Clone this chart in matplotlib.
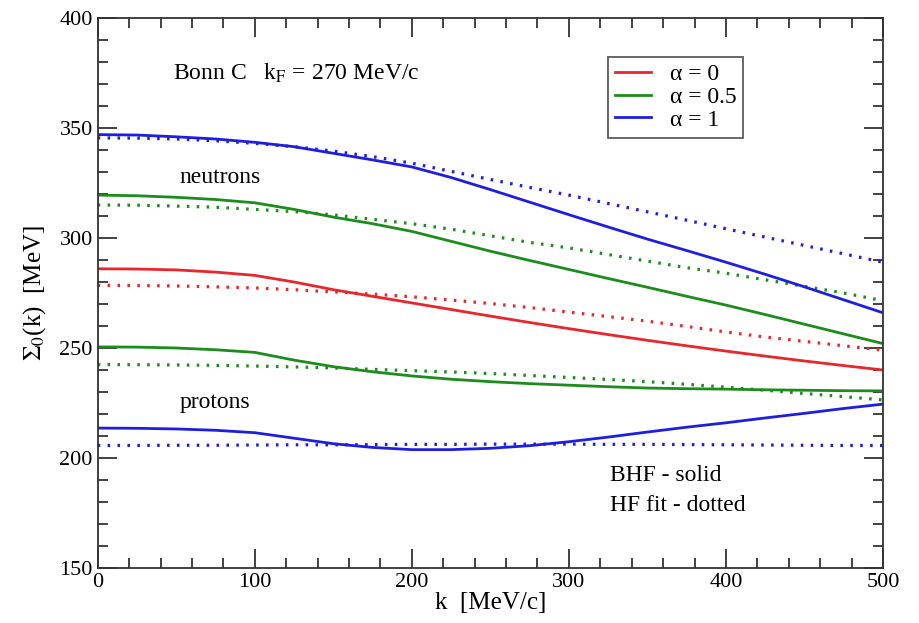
import matplotlib
matplotlib.use("Agg")
import matplotlib.pyplot as plt
from matplotlib.ticker import MultipleLocator

plt.rcParams['font.family'] = ['Liberation Serif', 'DejaVu Serif']
plt.rcParams['mathtext.fontset'] = 'stix'

k = [0, 25, 50, 75, 100, 125, 150, 175, 200, 225, 250,
     275, 300, 325, 350, 375, 400, 425, 450, 475, 500]

# neutrons
n_a1_bhf = [347, 346.8, 346, 345, 343.5, 341.5, 338.5, 335.5, 332.3, 327.5, 322,
            316.3, 310.6, 305, 299.5, 294.3, 289, 283.5, 277.8, 271.9, 266]
n_a1_hf = [345.5, 345.4, 345, 344.2, 343, 341.5, 339.5, 337, 334, 330.3, 326.6,
           323, 319.5, 315.7, 311.9, 308.1, 304.2, 300.4, 296.6, 292.8, 289]
n_a05_bhf = [319.5, 319.2, 318.5, 317.5, 316, 313, 309.5, 306.5, 303, 298.5, 294,
             289.8, 285.7, 281.6, 277.6, 273.5, 269.5, 265.2, 260.8, 256.4, 252]
n_a05_hf = [315, 314.9, 314.5, 314, 313, 312, 310.5, 308.5, 306.5, 304, 301,
            298, 295.5, 292.5, 289.5, 286.5, 284, 281, 278, 275, 271.5]
n_a0_bhf = [286, 285.9, 285.5, 284.5, 283, 280, 276.5, 273.5, 270.5, 267.5, 264.5,
            261.6, 258.8, 256.1, 253.5, 251, 248.6, 246.3, 244.1, 242, 240]
n_a0_hf = [278.5, 278.4, 278.2, 277.8, 277.3, 276.5, 275.5, 274.5, 273.3, 271.8, 270.2,
           268.4, 266.3, 264.3, 262.2, 259.8, 257.3, 255, 253, 251, 249]

# protons
p_a05_bhf = [250.5, 250.4, 250, 249.2, 248, 244.5, 241.5, 239.2, 237.3, 235.8, 234.7,
             233.8, 233.1, 232.4, 231.8, 231.5, 231.3, 231, 230.8, 230.6, 230.5]
p_a05_hf = [242.5, 242.4, 242.3, 242.1, 241.8, 241.4, 240.9, 240.3, 239.7, 239.1, 238.4,
            237.5, 236.6, 235.7, 234.7, 233.5, 232.2, 230.8, 229.3, 227.9, 226.4]
p_a1_bhf = [213.6, 213.5, 213.2, 212.6, 211.5, 209, 206.5, 204.8, 203.8, 203.8, 204.4,
            205.6, 207.4, 209.5, 211.8, 214, 216, 218.2, 220.3, 222.5, 224.5]
p_a1_hf = [205.7, 205.7, 205.8, 205.8, 205.9, 206, 206, 206.1, 206.2, 206.2, 206.3,
           206.3, 206.3, 206.2, 206.2, 206.1, 206, 205.9, 205.8, 205.7, 205.7]

legend_labels = ['α = 0', 'α = 0.5', 'α = 1']

RED = '#e8262b'
GREEN = '#1c8c1c'
BLUE = '#1e1ee0'

fig = plt.figure(figsize=(9.2, 6.23), dpi=100)
ax = fig.add_axes([97.7/920, 1-568/623, (883-97.7)/920, (568-18)/623])

lw = 2.0
dlw = 2.3
dot = (0, (0.8, 2.3))

l0, = ax.plot(k, n_a0_bhf, color=RED, lw=lw)
ax.plot(k, n_a0_hf, color=RED, lw=dlw, ls=dot)
l05, = ax.plot(k, n_a05_bhf, color=GREEN, lw=lw)
ax.plot(k, n_a05_hf, color=GREEN, lw=dlw, ls=dot)
l1, = ax.plot(k, n_a1_bhf, color=BLUE, lw=lw)
ax.plot(k, n_a1_hf, color=BLUE, lw=dlw, ls=dot)

ax.plot(k, p_a05_bhf, color=GREEN, lw=lw)
ax.plot(k, p_a05_hf, color=GREEN, lw=dlw, ls=dot)
ax.plot(k, p_a1_bhf, color=BLUE, lw=lw)
ax.plot(k, p_a1_hf, color=BLUE, lw=dlw, ls=dot)

ax.set_xlim(0, 500)
ax.set_ylim(150, 400)
ax.xaxis.set_major_locator(MultipleLocator(100))
ax.xaxis.set_minor_locator(MultipleLocator(20))
ax.yaxis.set_major_locator(MultipleLocator(50))
ax.yaxis.set_minor_locator(MultipleLocator(10))
ax.tick_params(which='both', direction='in', top=True, right=True, labelsize=16, width=1.3, colors='#333333', labelcolor='black')
ax.tick_params(which='major', length=14)
ax.tick_params(which='minor', length=7)
for s in ax.spines.values():
    s.set_linewidth(1.3)
    s.set_color('#333333')

ax.set_xlabel('k  [MeV/c]', fontsize=18, labelpad=0)
ax.set_ylabel(r'$\Sigma_0$(k)  [MeV]', fontsize=18, labelpad=8)

ax.text(48, 375, r'Bonn C   k$_\mathrm{F}$ = 270 MeV/c', fontsize=17, va='center')
ax.text(52, 327.5, 'neutrons', fontsize=17, va='center')
ax.text(52, 225, 'protons', fontsize=17, va='center')
ax.text(326, 192, 'BHF - solid', fontsize=17, va='center')
ax.text(326, 178.5, 'HF fit - dotted', fontsize=17, va='center')

leg = ax.legend([l0, l05, l1], legend_labels, loc='upper left', bbox_to_anchor=(0.65, 0.93),
                fontsize=17, frameon=True, fancybox=False, edgecolor='#333333',
                handlelength=1.5, handletextpad=0.8, borderpad=0.3, labelspacing=0.05,
                borderaxespad=0)
leg.get_frame().set_linewidth(1.3)

fig.savefig('out.png', dpi=100)
